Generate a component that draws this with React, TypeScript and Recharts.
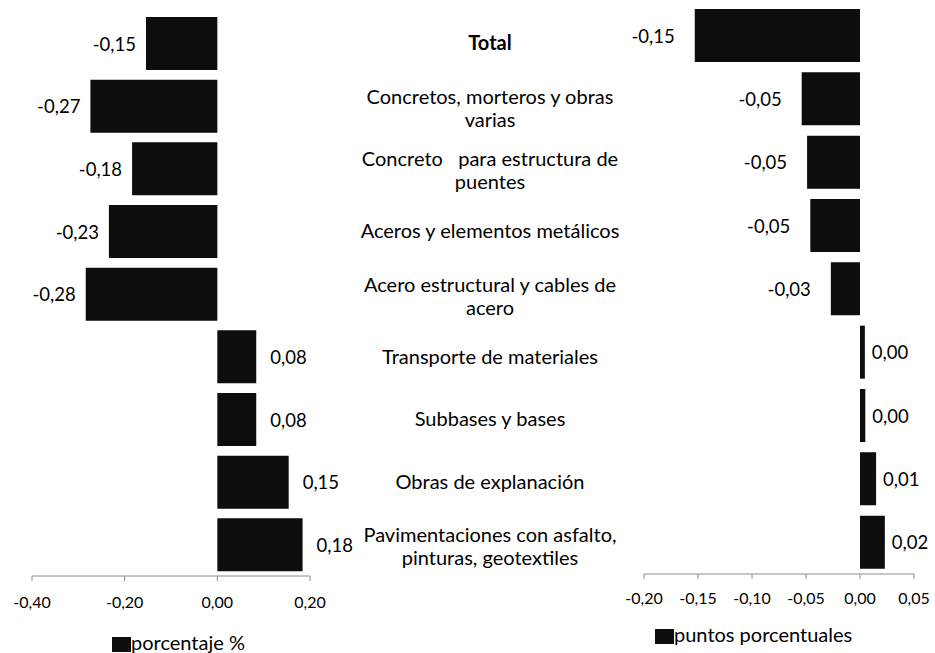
import { BarChart, Bar, XAxis, YAxis, Legend, LabelList } from 'recharts';

const categories = [
  'Total',
  'Concretos, morteros y obras\nvarias',
  'Concreto   para estructura de\npuentes',
  'Aceros y elementos metálicos',
  'Acero estructural y cables de\nacero',
  'Transporte de materiales',
  'Subbases y bases',
  'Obras de explanación',
  'Pavimentaciones con asfalto,\npinturas, geotextiles',
];

// variación anual, porcentaje %
const porcentaje = [-0.154, -0.274, -0.184, -0.234, -0.284, 0.084, 0.084, 0.154, 0.184];
// contribución, puntos porcentuales
const puntos = [-0.153, -0.054, -0.049, -0.046, -0.027, 0.0045, 0.0049, 0.0149, 0.023];

const leftTicks = [-0.4, -0.2, 0, 0.2];
const rightTicks = [-0.2, -0.15, -0.1, -0.05, 0, 0.05];

const FONT = 'Lato, "Open Sans", sans-serif';
const BAR_FILL = '#0d0d0d';
const AXIS_GRAY = '#8c8c8c';
const LABEL_X = 490;
const LINE = 23;

const data = categories.map((name, i) => ({
  name,
  porcentaje: porcentaje[i],
  puntos: puntos[i],
}));

const fmt = (v: number) => v.toFixed(2).replace('.', ',');

function barValue(props: any, gapNeg: number, gapPos: number) {
  const { x, y, width, height, value } = props;
  const left = Math.min(x, x + width);
  const right = Math.max(x, x + width);
  const neg = value < 0;
  return (
    <text
      x={neg ? left - gapNeg : right + gapPos}
      y={y + height / 2}
      textAnchor={neg ? 'end' : 'start'}
      dominantBaseline="central"
      fontSize={18.5}
      fontFamily={FONT}
      fill="#000"
    >
      {fmt(value)}
    </text>
  );
}

function CategoryTick({ y, payload }: any) {
  const lines = String(payload.value).split('\n');
  const bold = payload.value === 'Total';
  return (
    <text
      x={LABEL_X}
      y={y}
      textAnchor="middle"
      fontSize={20}
      fontFamily={FONT}
      fontWeight={bold ? 700 : 400}
      fill="#000"
      style={{ whiteSpace: 'pre' }}
    >
      {lines.map((l, i) => (
        <tspan key={i} x={LABEL_X} dy={i === 0 ? -((lines.length - 1) * LINE) / 2 + (lines.length > 1 ? 9 : 7) : LINE}>
          {l}
        </tspan>
      ))}
    </text>
  );
}

function LegendBox({ label, left, top, textTop }: { label: string; left: number; top: number; textTop: number }) {
  return (
    <div style={{ position: 'relative', height: 45 }}>
      <span style={{ position: 'absolute', left, top, width: 19, height: 15, background: BAR_FILL }} />
      <span
        style={{
          position: 'absolute',
          left: left + 19,
          top: textTop,
          fontSize: 20,
          lineHeight: '20px',
          fontFamily: FONT,
          color: '#000',
          whiteSpace: 'nowrap',
        }}
      >
        {label}
      </span>
    </div>
  );
}

export default function App() {
  return (
    <div style={{ position: 'absolute', left: 0, top: 0, width: 935, height: 653, background: '#fff', fontFamily: FONT }}>
      <div style={{ position: 'absolute', left: 0, top: 0 }}>
        <BarChart width={630} height={653} data={data} layout="vertical" margin={{ top: 12, right: 0, bottom: 2, left: 32 }}>
          <XAxis
            type="number"
            domain={[-0.4, 0.2]}
            ticks={leftTicks}
            interval={0}
            tickFormatter={fmt}
            axisLine={{ stroke: AXIS_GRAY }}
            tickLine={{ stroke: AXIS_GRAY }}
            tickSize={5}
            tickMargin={16}
            height={30}
            tick={{ fontSize: 16, fill: '#000', fontFamily: FONT }}
          />
          <YAxis
            type="category"
            dataKey="name"
            orientation="right"
            width={320}
            interval={0}
            axisLine={false}
            tickLine={false}
            tick={<CategoryTick />}
          />
          <Legend
            verticalAlign="bottom"
            wrapperStyle={{ left: 0, bottom: 0, width: 630, height: 45 }}
            content={() => <LegendBox label="porcentaje %" left={112} top={29} textTop={24} />}
          />
          <Bar dataKey="porcentaje" name="porcentaje %" fill={BAR_FILL} barSize={53} isAnimationActive={false}>
            <LabelList dataKey="porcentaje" content={(p: any) => barValue(p, 10, 14)} />
          </Bar>
        </BarChart>
      </div>
      <div style={{ position: 'absolute', left: 560, top: 0 }}>
        <BarChart width={375} height={653} data={data} layout="vertical" margin={{ top: 4, right: 21, bottom: 4, left: 84 }}>
          <XAxis
            type="number"
            domain={[-0.2, 0.05]}
            ticks={rightTicks}
            interval={0}
            tickFormatter={fmt}
            axisLine={{ stroke: AXIS_GRAY }}
            tickLine={{ stroke: AXIS_GRAY }}
            tickSize={5}
            tickMargin={14}
            height={30}
            tick={{ fontSize: 16, fill: '#000', fontFamily: FONT }}
          />
          <YAxis type="category" dataKey="name" hide />
          <Legend
            verticalAlign="bottom"
            wrapperStyle={{ left: 0, bottom: 0, width: 375, height: 45 }}
            content={() => <LegendBox label="puntos porcentuales" left={95} top={21} textTop={16} />}
          />
          <Bar dataKey="puntos" name="puntos porcentuales" fill={BAR_FILL} barSize={53} isAnimationActive={false}>
            <LabelList dataKey="puntos" content={(p: any) => barValue(p, 20, 7)} />
          </Bar>
        </BarChart>
      </div>
    </div>
  );
}
